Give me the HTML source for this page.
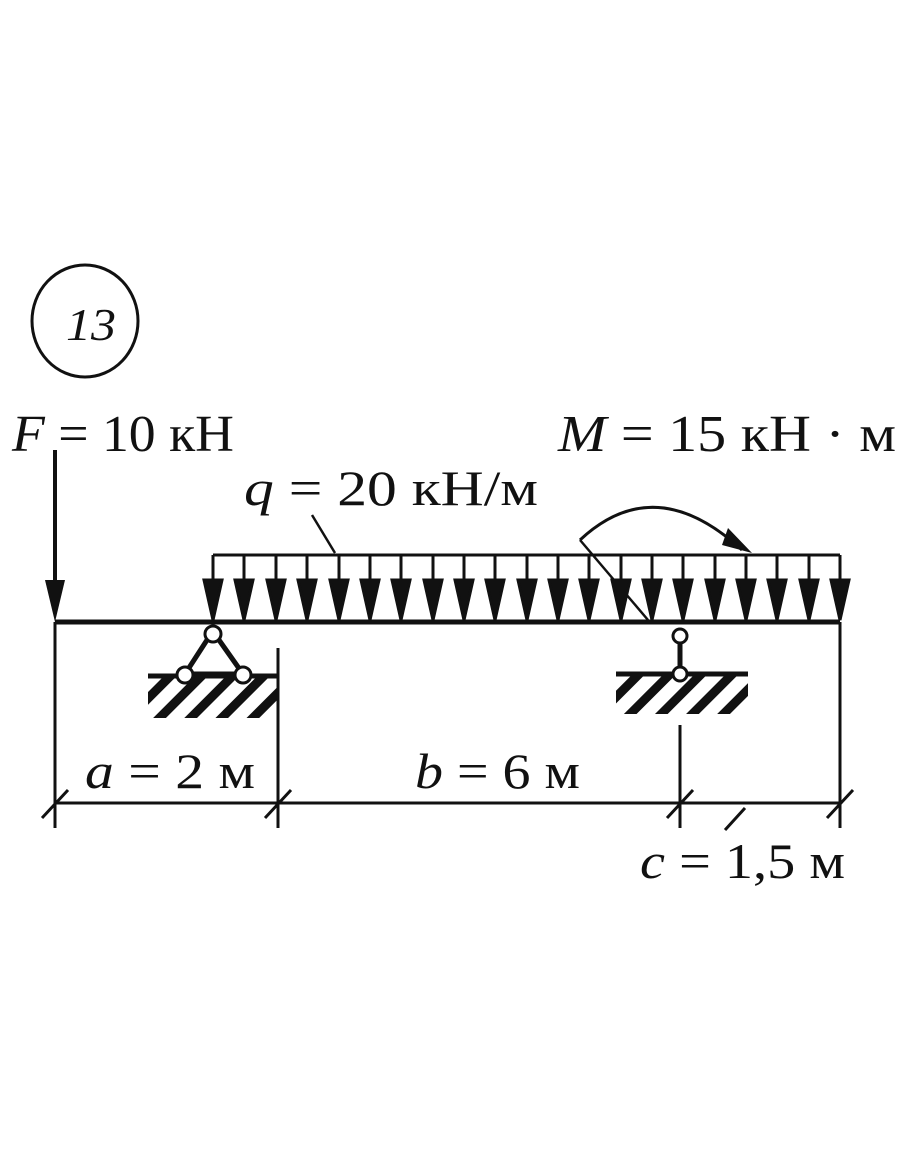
<!DOCTYPE html>
<html><head><meta charset="utf-8"><style>html,body{margin:0;padding:0;background:#fff}svg{display:block}</style></head>
<body>
<svg width="910" height="1155" viewBox="0 0 910 1155" xmlns="http://www.w3.org/2000/svg" font-family="Liberation Serif, serif" fill="#111">
<defs>
<pattern id="h" patternUnits="userSpaceOnUse" width="22" height="22" patternTransform="rotate(45)">
<rect x="0" y="0" width="9" height="22" fill="#111"/>
</pattern>
</defs>
<ellipse cx="85" cy="321" rx="53" ry="56" fill="none" stroke="#111" stroke-width="3"/>
<text x="66" y="340" font-size="46" font-style="italic" textLength="50" lengthAdjust="spacingAndGlyphs">13</text>
<text x="12" y="451" font-size="52" textLength="222" lengthAdjust="spacingAndGlyphs"><tspan font-style="italic">F</tspan> = 10 кН</text>
<text x="558" y="451" font-size="52" textLength="338" lengthAdjust="spacingAndGlyphs"><tspan font-style="italic">M</tspan> = 15 кН · м</text>
<text x="244" y="505" font-size="50" textLength="294" lengthAdjust="spacingAndGlyphs"><tspan font-style="italic">q</tspan> = 20 кН/м</text>
<text x="85" y="788" font-size="50" textLength="170" lengthAdjust="spacingAndGlyphs"><tspan font-style="italic">a</tspan> = 2 м</text>
<text x="415" y="788" font-size="50" textLength="165" lengthAdjust="spacingAndGlyphs"><tspan font-style="italic">b</tspan> = 6 м</text>
<text x="640" y="878" font-size="50" textLength="205" lengthAdjust="spacingAndGlyphs"><tspan font-style="italic">c</tspan> = 1,5 м</text>
<g stroke="#111" fill="none">
<line x1="55" y1="450" x2="55" y2="600" stroke-width="4"/>
<line x1="55" y1="622" x2="840" y2="622" stroke-width="5"/>
<line x1="213" y1="555" x2="840" y2="555" stroke-width="3"/>
<line x1="312" y1="515" x2="335" y2="553" stroke-width="2.5"/>
<path d="M580 540 Q655 470 742 550" stroke-width="3"/>
<line x1="580" y1="540" x2="648" y2="620" stroke-width="2.5"/>
<line x1="55" y1="622" x2="55" y2="828" stroke-width="3"/>
<line x1="278" y1="648" x2="278" y2="828" stroke-width="3"/>
<line x1="680" y1="725" x2="680" y2="828" stroke-width="3"/>
<line x1="840" y1="622" x2="840" y2="828" stroke-width="3"/>
<line x1="55" y1="803" x2="840" y2="803" stroke-width="3"/>
<g stroke-width="3">
<line x1="42" y1="818" x2="68" y2="790"/>
<line x1="265" y1="818" x2="291" y2="790"/>
<line x1="667" y1="818" x2="693" y2="790"/>
<line x1="827" y1="818" x2="853" y2="790"/>
<line x1="725" y1="830" x2="745" y2="808"/>
</g>
</g>
<polygon points="45,580 65,580 55,622" fill="#111"/>
<g stroke="#111" stroke-width="3">
<line x1="213" y1="555" x2="213" y2="600"/><polygon points="204,580 222,580 213,620" fill="#111"/>
<line x1="244" y1="555" x2="244" y2="600"/><polygon points="235,580 253,580 244,620" fill="#111"/>
<line x1="276" y1="555" x2="276" y2="600"/><polygon points="267,580 285,580 276,620" fill="#111"/>
<line x1="307" y1="555" x2="307" y2="600"/><polygon points="298,580 316,580 307,620" fill="#111"/>
<line x1="339" y1="555" x2="339" y2="600"/><polygon points="330,580 348,580 339,620" fill="#111"/>
<line x1="370" y1="555" x2="370" y2="600"/><polygon points="361,580 379,580 370,620" fill="#111"/>
<line x1="401" y1="555" x2="401" y2="600"/><polygon points="392,580 410,580 401,620" fill="#111"/>
<line x1="433" y1="555" x2="433" y2="600"/><polygon points="424,580 442,580 433,620" fill="#111"/>
<line x1="464" y1="555" x2="464" y2="600"/><polygon points="455,580 473,580 464,620" fill="#111"/>
<line x1="495" y1="555" x2="495" y2="600"/><polygon points="486,580 504,580 495,620" fill="#111"/>
<line x1="527" y1="555" x2="527" y2="600"/><polygon points="518,580 536,580 527,620" fill="#111"/>
<line x1="558" y1="555" x2="558" y2="600"/><polygon points="549,580 567,580 558,620" fill="#111"/>
<line x1="589" y1="555" x2="589" y2="600"/><polygon points="580,580 598,580 589,620" fill="#111"/>
<line x1="621" y1="555" x2="621" y2="600"/><polygon points="612,580 630,580 621,620" fill="#111"/>
<line x1="652" y1="555" x2="652" y2="600"/><polygon points="643,580 661,580 652,620" fill="#111"/>
<line x1="683" y1="555" x2="683" y2="600"/><polygon points="674,580 692,580 683,620" fill="#111"/>
<line x1="715" y1="555" x2="715" y2="600"/><polygon points="706,580 724,580 715,620" fill="#111"/>
<line x1="746" y1="555" x2="746" y2="600"/><polygon points="737,580 755,580 746,620" fill="#111"/>
<line x1="777" y1="555" x2="777" y2="600"/><polygon points="768,580 786,580 777,620" fill="#111"/>
<line x1="809" y1="555" x2="809" y2="600"/><polygon points="800,580 818,580 809,620" fill="#111"/>
<line x1="840" y1="555" x2="840" y2="600"/><polygon points="831,580 849,580 840,620" fill="#111"/>
</g>
<polygon points="728,528 752,553 722,545" fill="#111"/>
<rect x="148" y="676" width="130" height="42" fill="url(#h)"/>
<line x1="148" y1="676" x2="278" y2="676" stroke="#111" stroke-width="5"/>
<path d="M207 640 L185 674 L243 674 L219 640" fill="none" stroke="#111" stroke-width="5"/>
<circle cx="213" cy="634" r="8" fill="#fff" stroke="#111" stroke-width="3"/>
<circle cx="185" cy="675" r="8" fill="#fff" stroke="#111" stroke-width="3"/>
<circle cx="243" cy="675" r="8" fill="#fff" stroke="#111" stroke-width="3"/>
<rect x="616" y="674" width="132" height="40" fill="url(#h)"/>
<line x1="616" y1="674" x2="748" y2="674" stroke="#111" stroke-width="5"/>
<line x1="680" y1="640" x2="680" y2="672" stroke="#111" stroke-width="5"/>
<circle cx="680" cy="636" r="7" fill="#fff" stroke="#111" stroke-width="3"/>
<circle cx="680" cy="674" r="7" fill="#fff" stroke="#111" stroke-width="3"/>
</svg>
</body></html>
